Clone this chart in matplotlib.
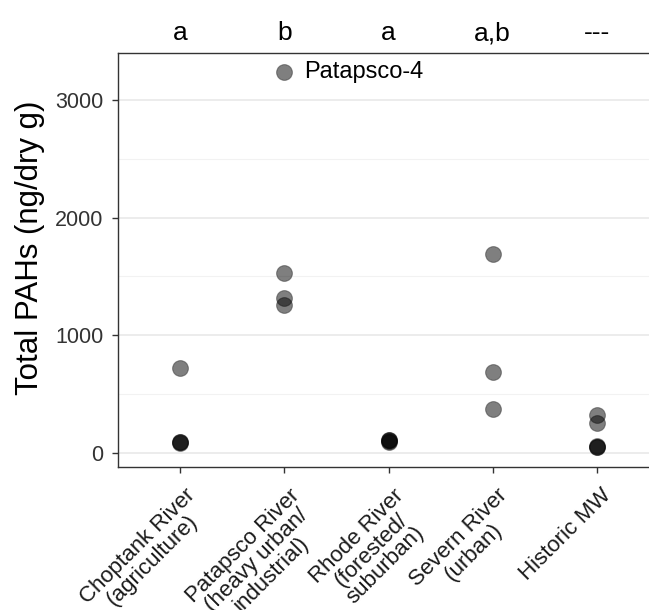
import matplotlib
matplotlib.use("Agg")
import matplotlib.pyplot as plt
import matplotlib.transforms as mtransforms
from matplotlib.ticker import MultipleLocator

plt.rcParams['font.family'] = ['Liberation Sans', 'DejaVu Sans']

# ---- data ----
categories = ["Choptank River\n(agriculture)",
              "Patapsco River\n(heavy urban/\nindustrial)",
              "Rhode River\n(forested/\nsuburban)",
              "Severn River\n(urban)",
              "Historic MW"]
group_letters = ["a", "b", "a", "a,b", "---"]

choptank = [718, 85, 90, 95]
patapsco = [3243, 1527, 1314, 1257]
rhode = [95, 100, 105, 110]
severn = [1688, 690, 369]
historic = [321, 250, 45, 50, 55]
series = [choptank, patapsco, rhode, severn, historic]

label_text = "Patapsco-4"
label_cat = 1
label_value = 3243

yticks = [0, 1000, 2000, 3000]

# ---- figure ----
W, H = 649, 610
fig = plt.figure(figsize=(W / 100, H / 100), dpi=100)
left, right, top, bottom = 118, 659, 53, 467
ax = fig.add_axes([left / W, 1 - bottom / H, (right - left) / W, (bottom - top) / H])

for i, vals in enumerate(series):
    ax.scatter([i] * len(vals), vals, s=130, facecolor=(0, 0, 0, 0.5),
               edgecolor=(0, 0, 0, 0.35), linewidth=0.8, zorder=3)

ax.annotate(label_text, xy=(label_cat, label_value), xytext=(14, 0),
            textcoords="offset points", va="center", ha="left",
            fontsize=17, color="black")

ax.set_xlim(-0.6, 4.6)
ax.set_ylim(-122, 3402)
ax.set_yticks(yticks)
ax.yaxis.set_minor_locator(MultipleLocator(500))
ax.grid(True, axis="y", which="major", color="#EBEBEB", linewidth=1.3, zorder=0)
ax.grid(True, axis="y", which="minor", color="#F2F2F2", linewidth=0.8, zorder=0)
ax.set_axisbelow(True)
ax.tick_params(axis="y", which="minor", length=0)
ax.tick_params(axis="both", which="major", length=4.5, width=1.0, color="#333333",
               labelsize=15.5, labelcolor="#333333", pad=6)
for sp in ax.spines.values():
    sp.set_color("#333333")
    sp.set_linewidth(1.0)
ax.spines["right"].set_visible(False)

ax.set_xticks(range(len(categories)))
ax.set_xticklabels([])
off = mtransforms.ScaledTranslation(0.045, -0.18, fig.dpi_scale_trans)
trans = mtransforms.blended_transform_factory(ax.transData, ax.transAxes) + off
for i, c in enumerate(categories):
    ax.text(i, 0, c, transform=trans, rotation=45, rotation_mode="anchor",
            ha="right", va="top", multialignment="center", fontsize=16,
            color="#1a1a1a", linespacing=0.95)

ltrans = mtransforms.blended_transform_factory(ax.transData, ax.transAxes)
for i, g in enumerate(group_letters):
    ax.text(i, (bottom - 40) / (bottom - top), g, transform=ltrans, ha="center",
            va="baseline", fontsize=19, color="black", clip_on=False)

fig.text(30 / W, 1 - 248 / H, "Total PAHs (ng/dry g)", rotation=90,
         ha="center", va="center", fontsize=22.5, color="black")

fig.savefig("out.png", dpi=100)
